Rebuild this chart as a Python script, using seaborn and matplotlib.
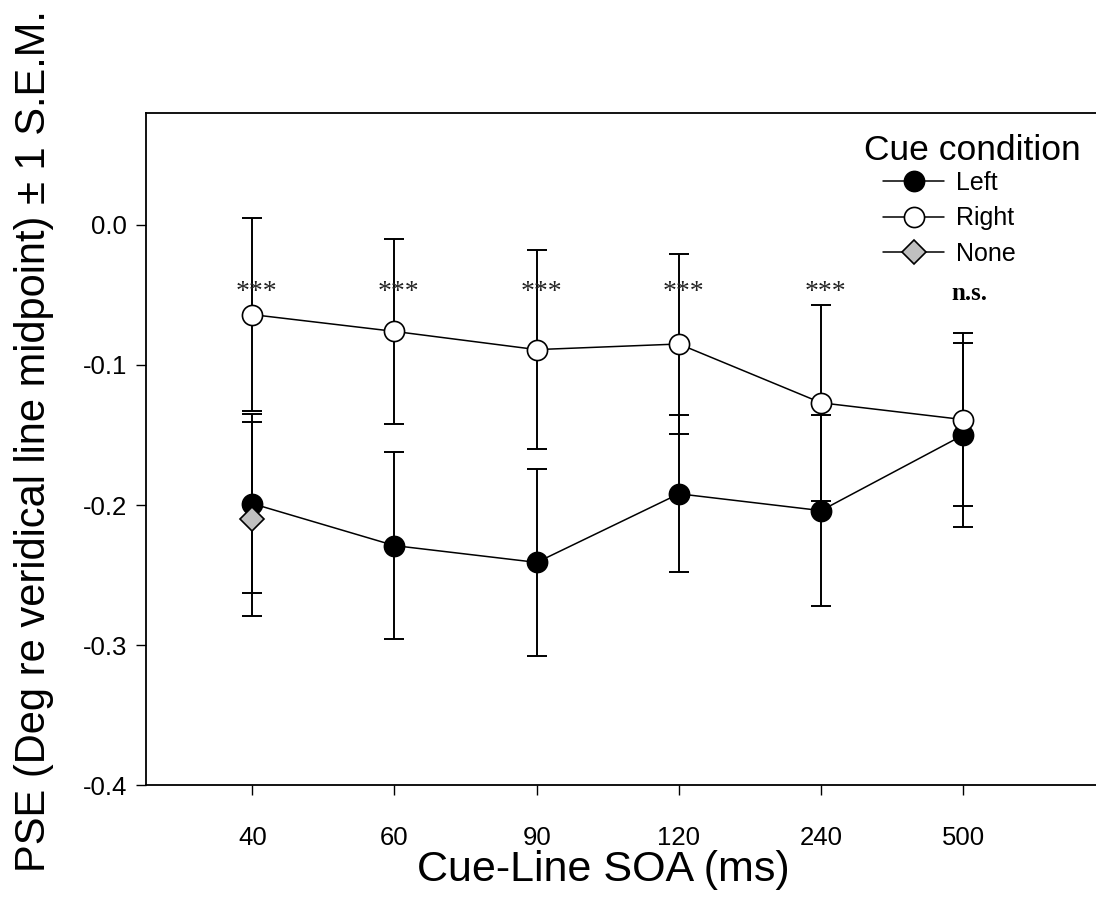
import seaborn as sns
import matplotlib.pyplot as plt
import matplotlib.lines as mlines
import pandas as pd
import numpy as np

# --- data ---
soa_labels = ['40', '60', '90', '120', '240', '500']
left_mean = [-0.199, -0.229, -0.241, -0.192, -0.204, -0.150]
left_sem = [0.064, 0.067, 0.067, 0.056, 0.068, 0.066]
right_mean = [-0.064, -0.076, -0.089, -0.085, -0.127, -0.139]
right_sem = [0.069, 0.066, 0.071, 0.064, 0.070, 0.062]
none_soa = ['40']
none_mean = [-0.210]
none_sem = [0.069]
sig_labels = ['***', '***', '***', '***', '***', 'n.s.']

cue_order = ['Left', 'None', 'Right']

df = pd.concat([
    pd.DataFrame({'soa': soa_labels, 'pse': left_mean, 'sem': left_sem, 'cue': 'Left'}),
    pd.DataFrame({'soa': none_soa, 'pse': none_mean, 'sem': none_sem, 'cue': 'None'}),
    pd.DataFrame({'soa': soa_labels, 'pse': right_mean, 'sem': right_sem, 'cue': 'Right'}),
], ignore_index=True)

sns.set_style('ticks')
plt.rcParams['font.family'] = ['Liberation Sans', 'DejaVu Sans']
plt.rcParams.update({'text.color': 'black', 'axes.labelcolor': 'black',
                     'xtick.color': 'black', 'ytick.color': 'black'})

fig = plt.figure(figsize=(10.96, 9.09), dpi=100)
ax = fig.add_axes([0.1332, 0.1364, 0.8668, 0.7393])

# error bars first, underneath the markers
for cue in cue_order:
    sub = df[df['cue'] == cue]
    pos = [soa_labels.index(s) for s in sub['soa']]
    ax.errorbar(pos, sub['pse'], yerr=sub['sem'], fmt='none', ecolor='black',
                elinewidth=1.4, capsize=7.5, capthick=1.4, zorder=2)

sns.pointplot(data=df, x='soa', y='pse', hue='cue', order=soa_labels, hue_order=cue_order,
              palette={'Left': 'black', 'None': 'black', 'Right': 'black'},
              markers=['o', 'D', 'o'], linestyles=['-', 'none', '-'],
              errorbar=None, dodge=False, legend=False, ax=ax)

styles = {
    'Left': dict(mfc='black', marker='o', ms=14.5, z=3),
    'None': dict(mfc='#c0c0c0', marker='D', ms=12, z=4),
    'Right': dict(mfc='white', marker='o', ms=14.5, z=5),
}
for line, cue in zip(ax.lines[-3:], cue_order):
    st = styles[cue]
    line.set_markerfacecolor(st['mfc'])
    line.set_markeredgecolor('black')
    line.set_markeredgewidth(1.2)
    line.set_markersize(st['ms'])
    line.set_linewidth(1.1)
    line.set_color('black')
    line.set_zorder(st['z'])

# significance marks
for i, lab in enumerate(sig_labels):
    if lab == 'n.s.':
        ax.text(i + 0.04, -0.0535, lab, ha='center', va='baseline', fontsize=18,
                family='Liberation Serif', fontweight='bold')
    else:
        ax.text(i + 0.03, -0.053, lab, ha='center', va='baseline', fontsize=20,
                family='Liberation Serif', color='#222222')

ax.set_xlim(-0.7475, 5.933)
ax.set_ylim(-0.4, 0.08)
ax.set_yticks([0.0, -0.1, -0.2, -0.3, -0.4])
ax.set_yticklabels(['0.0', '-0.1', '-0.2', '-0.3', '-0.4'])
ax.tick_params(axis='both', direction='out', length=7.5, width=1.0, labelsize=18.5,
               color='black', labelcolor='black')
ax.tick_params(axis='x', pad=22)
ax.tick_params(axis='y', pad=6)

for s in ['left', 'bottom', 'top']:
    ax.spines[s].set_linewidth(1.3)
    ax.spines[s].set_color('black')
ax.spines['right'].set_visible(False)

ax.set_xlabel('Cue-Line SOA (ms)', fontsize=31, color='black')
ax.xaxis.set_label_coords((603 - 146) / 950, -0.096)
ax.set_ylabel('PSE (Deg re veridical line midpoint) \u00b1 1 S.E.M.', fontsize=30, color='black')
ax.yaxis.set_label_coords(-0.097, 0.512)

# legend
handles = [
    mlines.Line2D([], [], color='black', lw=1.1, marker='o', ms=14.5, mfc='black', mec='black', mew=1.2),
    mlines.Line2D([], [], color='black', lw=1.1, marker='o', ms=14.5, mfc='white', mec='black', mew=1.2),
    mlines.Line2D([], [], color='black', lw=1.1, marker='D', ms=12, mfc='#c0c0c0', mec='black', mew=1.2),
]
leg = ax.legend(handles, ['Left', 'Right', 'None'], loc='upper left',
                bbox_to_anchor=(883 / 1096, 1 - 171 / 909), bbox_transform=fig.transFigure,
                frameon=False, fontsize=18, handlelength=2.45, handletextpad=0.45,
                labelspacing=0.46, borderpad=0, borderaxespad=0, labelcolor='black')
fig.text(972 / 1096, 1 - 150 / 909, 'Cue condition', ha='center', va='center',
         fontsize=25.5, color='black')

fig.savefig('out.png', dpi=100)
